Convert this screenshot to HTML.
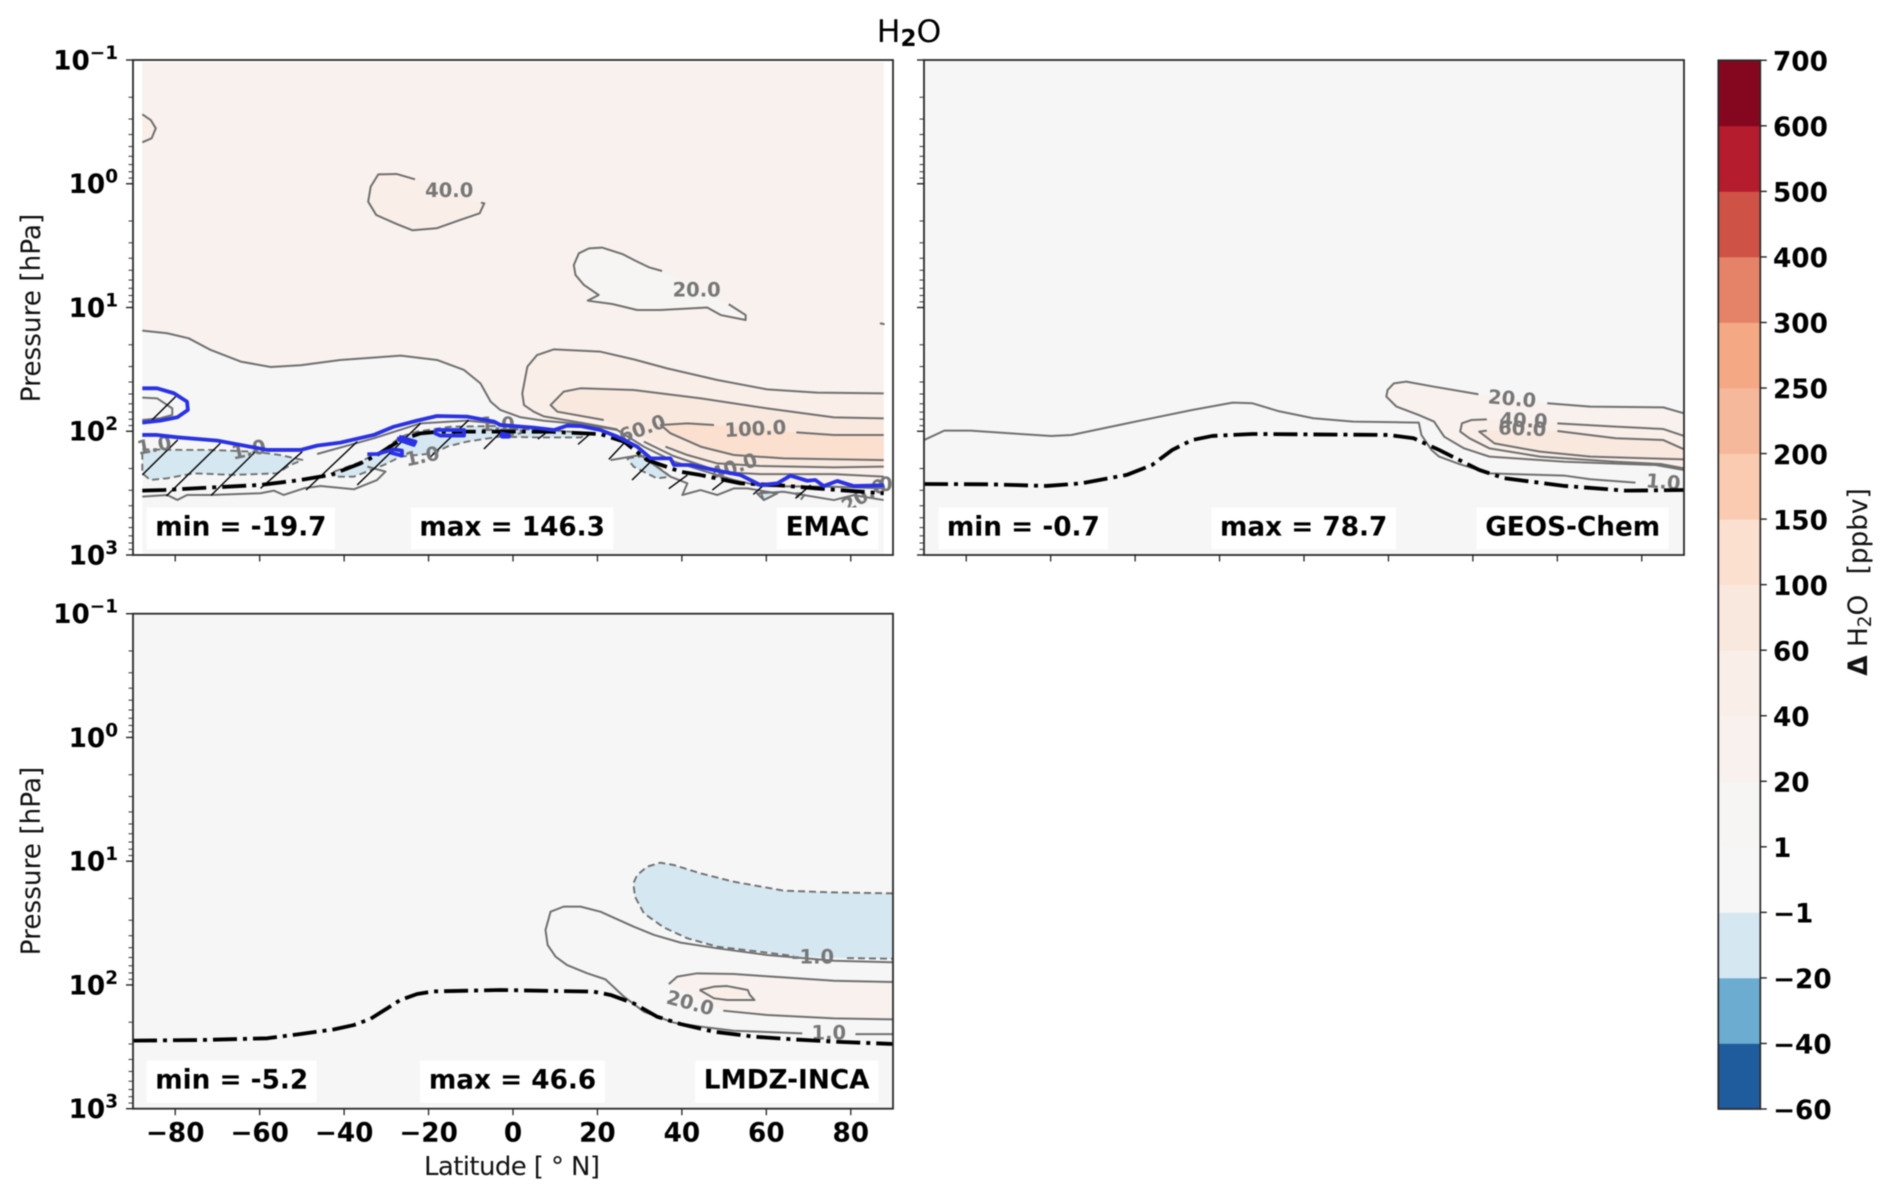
<!DOCTYPE html>
<html lang="en">
<head>
<meta charset="utf-8">
<title>H2O zonal mean difference</title>
<style>
html,body{margin:0;padding:0;background:#fff;}
svg{display:block;font-family:"DejaVu Sans","Liberation Sans",sans-serif;filter:blur(0.45px);}
</style>
</head>
<body>
<svg id="figure" xmlns="http://www.w3.org/2000/svg" width="1892" height="1197" viewBox="0 0 1892 1197">
  <rect x="0" y="0" width="1892" height="1197" fill="#ffffff"/>
  <text x="909" y="42" font-size="31.5" text-anchor="middle" fill="#000">H<tspan font-weight="bold" font-size="23" dy="4">2</tspan><tspan dy="-4">O</tspan></text>
  <text transform="translate(40,308) rotate(-90)" font-size="26.3" text-anchor="middle" fill="#111">Pressure [hPa]</text>
  <text transform="translate(40,861) rotate(-90)" font-size="26.3" text-anchor="middle" fill="#111">Pressure [hPa]</text>
  <text x="512" y="1175" font-size="26" text-anchor="middle" fill="#111" textLength="176" lengthAdjust="spacing">Latitude [ ° N]</text>
  <text transform="translate(1867,582) rotate(-90)" font-size="26.3" text-anchor="middle" fill="#111"><tspan font-weight="bold">Δ</tspan> H<tspan font-size="18.5" dy="4">2</tspan><tspan dy="-4">O </tspan><tspan dx="12">[ppbv]</tspan></text>
  <g id="plots"></g>
  <g id="colorbar"></g>
</svg>
<script>
// ---------- axis data ----------
const xTickValues = [-80,-60,-40,-20,0,20,40,60,80];
const yTickExponents = [-1,0,1,2,3];
const minorTickFactors = [2,3,4,5,6,7,8,9];
const colorbarLabels = ["\u221260","\u221240","\u221220","\u22121","1","20","40","60","100","150","200","250","300","400","500","600","700"];
const colorbarColors = ["#1f5c9d","#6bacd0","#d5e7f1","#f6f6f6","#f6f5f3","#f8f1ed","#f9eee8","#f9e8de","#fbdfcf","#facab1","#f6b89a","#f4a984","#e58368","#cf5246","#b51c2e","#85071f"];

// ---------- EMAC series: [latitude, log10 pressure] ----------
const emacC20 = [[-87.8,1.187],[-81.9,1.208],[-76.8,1.249],[-71.6,1.343],[-64.5,1.437],[-57.4,1.481],[-50.3,1.467],[-40.9,1.424],[-26.6,1.389],[-18,1.424],[-11.6,1.505],[-7.7,1.613],[-5.3,1.761],[-3,1.828],[1.8,1.887],[7.3,1.915],[16.8,1.944],[24.7,1.99],[31,2.125],[38.2,2.246],[44.4,2.313],[52.3,2.394],[58.6,2.443],[76,2.448],[87.8,2.462]];
const emacC40Upper = [[87.8,1.694],[72,1.688],[60.2,1.662],[48.4,1.586],[36.5,1.492],[28.6,1.419],[20.7,1.357],[9.7,1.338],[5.7,1.384],[3.4,1.478],[2.2,1.694],[2.6,1.788],[4.9,1.842],[7.3,1.88],[16.8,1.935],[24.7,1.985]];
const emacC40Lower = [[31,2.084],[38,2.2],[46,2.292],[48.4,2.313],[52.3,2.335],[58.6,2.346],[76,2.346],[87.8,2.367]];
const emacC60Upper = [[87.8,1.896],[76,1.888],[60.2,1.815],[44.5,1.734],[28.6,1.667],[16,1.653],[12,1.68],[8.9,1.788],[10.5,1.842],[21.5,1.909]];
const emacC60Lower = [[36.1,2.125],[41.3,2.192],[48.4,2.26],[58.6,2.281],[76,2.292],[87.8,2.286]];
const emacC100Right = [[87.8,2.03],[76,2.03],[67.1,2.009]];
const emacC100Left = [[47.6,1.95],[41.3,1.936],[35,1.95],[37.3,2.017],[44.5,2.125],[52.3,2.192],[64.1,2.219],[87.8,2.233]];
const emacBlobEdge = [[-87.8,-0.561],[-85.8,-0.515],[-84.6,-0.448],[-85.6,-0.367],[-87.8,-0.335]];
const emacBlob40 = [[-23.2,-0.036],[-27.6,-0.079],[-31.9,-0.076],[-33.7,0.023],[-34.3,0.145],[-32.4,0.252],[-27.6,0.325],[-23.8,0.376],[-18.1,0.36],[-12.6,0.293],[-7.9,0.239],[-6.8,0.158],[-7.6,0.153]];
const emacBlob20 = [[35.3,0.705],[32.2,0.675],[29,0.622],[25.9,0.568],[21.1,0.516],[18,0.522],[15.6,0.562],[14.4,0.657],[14.8,0.737],[16.8,0.818],[20.3,0.899],[17.7,0.945],[23.5,0.972],[29.4,1.02],[34.9,1.02],[46,1],[49.2,1.061],[55.1,1.101],[55.1,1.061],[51.1,0.974]];
const emacSmallTick = [[86.9,1.127],[88,1.135]];
const emacInnerLoop = [[-87.8,1.728],[-84.3,1.734],[-80.7,1.815],[-80.7,1.868],[-83.5,1.895],[-87.8,1.909]];
const emacUpperGray = [[-46.4,2.184],[-33,2.057],[-21.9,1.936],[-10.9,1.914],[1.8,1.957]];
const emacBottomLeft = [[-87.8,2.528],[-81.9,2.515],[-79.5,2.555],[-77.2,2.515],[-71.6,2.515],[-59.8,2.501],[-56.6,2.48],[-54.3,2.515],[-49.5,2.461],[-45.6,2.442],[-37.7,2.469],[-32.2,2.394],[-30.2,2.326],[-34.5,2.286]];
const emacBottomRight = [[23.1,2.233],[30.2,2.192],[37.3,2.367],[41.3,2.421],[40.1,2.515],[44.4,2.475],[48.4,2.515],[52.3,2.462],[55.5,2.462],[62.6,2.502],[59.4,2.556],[57.8,2.502],[64.1,2.489],[76,2.556],[80.7,2.516],[87.8,2.556]];
const emacNegative1 = [[-87.8,2.146],[-78,2.151],[-71.6,2.151],[-61.4,2.165],[-55.1,2.192],[-49.9,2.232],[-52.7,2.273],[-55.9,2.34],[-66.1,2.353],[-75.6,2.34],[-81.9,2.38],[-85.9,2.394],[-87.8,2.34]];
const emacNegative2 = [[-42.4,2.326],[-36.9,2.259],[-30.6,2.151],[-26.6,2.044],[-22.7,2.003],[-14.8,1.963],[-3,1.957],[1.8,1.976],[1.8,2.017],[-10.9,2.084],[-15.6,2.124],[-18.7,2.178],[-26.6,2.205],[-30.6,2.273],[-37.7,2.367],[-42.4,2.367]];
const emacNegative3 = [[-3,1.985],[6.5,1.985],[18.4,2.017],[16,2.05],[6.5,2.05],[-3,2.044]];
const emacNegative4 = [[27,2.219],[31,2.2],[37.3,2.367],[34.1,2.381],[28.6,2.287]];
const emacNegative5 = [[58.6,2.489],[62.6,2.502],[59.4,2.556]];
const emacNegative6 = [[66.9,2.502],[69.3,2.502],[68.1,2.556]];
const emacHatchSegments = [[-87.8,2.353,-79.4,2.07],[-82.1,2.523,-69.3,2.097],[-71.5,2.518,-60.6,2.151],[-59.8,2.461,-49.9,2.165],[-49,2.475,-36.9,2.084],[-36.9,2.434,-21.9,1.936],[-19.9,2.219,-10.5,1.909],[-6.9,2.143,-3,2.011],[-85.5,1.909,-79.9,1.72],[5.9,2.063,7.7,2.017],[15.4,2.106,18.4,2.017],[22.7,2.227,26.6,2.085],[28.2,2.394,32.6,2.246],[36.9,2.464,41.3,2.354],[47.2,2.475,50.7,2.381],[56.9,2.51,59.4,2.435],[66.9,2.542,70.5,2.435]];
const emacBlueLoop = [[-87.8,1.653],[-84.3,1.653],[-80.3,1.693],[-77.2,1.761],[-77,1.828],[-79.5,1.887],[-83.5,1.914],[-87.8,1.93]];
const emacBlueMain = [[-87.8,2.03],[-84.3,2.03],[-79.5,2.049],[-70,2.076],[-64.5,2.111],[-58.2,2.151],[-50.3,2.151],[-46.4,2.116],[-40.9,2.092],[-33,2.03],[-28.2,1.963],[-22.7,1.914],[-18,1.877],[-10.9,1.882],[-4.5,1.922],[-3,1.95],[4.9,1.971],[9.7,1.99],[12.8,1.955],[16,1.958],[20.7,1.99],[24.7,2.044],[29.4,2.125],[32.6,2.219],[37.3,2.219],[38.1,2.273],[42,2.273],[47.6,2.313],[53.9,2.354],[58.6,2.435],[62.6,2.421],[65.7,2.359],[69.7,2.4],[71.6,2.394],[73.6,2.443],[76.8,2.402],[80.7,2.443],[87.8,2.437]];
const emacBlueBit1 = [[-34.5,2.186],[-32.2,2.184],[-28.2,2.146],[-26.3,2.157],[-26.3,2.197],[-29,2.173]];
const emacBlueBit2 = [[-27,2.044],[-23.1,2.084],[-23.5,2.111],[-27,2.07],[-27,2.044]];
const emacBlueBit3 = [[-18.4,1.99],[-11.6,1.99],[-11.6,2.035],[-17.2,2.035],[-18.4,2.017],[-18.4,1.99]];
const emacBlueBit4 = [[-3,2.017],[-1,2.03],[-1,2.044],[-2.6,2.044],[-3,2.017]];
const emacTropopause = [[-87.8,2.48],[-82.7,2.475],[-72.4,2.456],[-59.8,2.434],[-50.3,2.394],[-43.2,2.353],[-36.1,2.259],[-32.2,2.192],[-26.6,2.07],[-21.9,2.017],[-17.2,2.003],[1.8,2.003],[8.9,2.004],[20.7,2.023],[26.3,2.084],[31.8,2.233],[39.7,2.327],[44.4,2.354],[53.9,2.421],[62.6,2.435],[72,2.462],[87.8,2.502]];
const emacLabelText = ["40.0","20.0","1.0","1.0","1.0","1.0","60.0","100.0","40.0","20.0","0"];
const emacLabelLat = [-15.1,43.5,-85,-62.6,-21.5,-3.7,30.6,57.4,52.3,83.1,88.3];
const emacLabelLogP = [0.05,0.853,2.111,2.146,2.2,1.941,1.977,1.977,2.287,2.516,2.427];
const emacLabelAngle = [0,0,-10,-12,-12,0,-20,-3,-20,-30,0];

// ---------- GEOS-Chem series ----------
const geosC1 = [[-90,2.071],[-85.2,1.995],[-79,1.995],[-69.4,2.017],[-59.9,2.038],[-55.1,2.03],[-40.8,1.928],[-26.5,1.828],[-16.9,1.769],[-12.2,1.774],[-6.2,1.836],[2.2,1.895],[11.7,1.922],[27.2,1.93],[27.8,2.03],[30.2,2.151],[32,2.205],[36.8,2.265],[43.9,2.34],[61.8,2.359],[67.8,2.388],[78.5,2.415]];
const geosC20Upper = [[41.3,1.701],[30.8,1.64],[24.2,1.599],[21.3,1.613],[19.8,1.666],[19.5,1.72],[21.9,1.801],[27.2,1.869],[30.8,1.922],[33.2,2.044],[37.9,2.138],[43.9,2.205],[61.8,2.246],[83.3,2.273],[90,2.313]];
const geosC20Lower = [[90,1.855],[85.1,1.807],[67.8,1.801],[57.6,1.774]];
const geosC40Upper = [[43.3,1.904],[39.7,1.909],[37.4,1.936],[37,2.003],[39.2,2.057],[43.9,2.138],[55.9,2.205],[73.8,2.246],[84.5,2.265],[90,2.3]];
const geosC40Lower = [[90,2.038],[85.1,1.982],[73.8,1.963],[60,1.936]];
const geosC60Upper = [[43.3,1.995],[41.5,2.003],[45.1,2.098],[55.9,2.165],[67.8,2.205],[90,2.227]];
const geosC60Lower = [[90,2.146],[85.1,2.071],[73.8,2.057],[60,1.998]];
const geosTropopause = [[-90,2.426],[-74.2,2.429],[-61,2.442],[-52.7,2.421],[-42,2.353],[-36,2.273],[-31.2,2.151],[-26.5,2.071],[-21.7,2.038],[-12.2,2.022],[20,2.03],[26,2.057],[32,2.151],[41.5,2.313],[47.5,2.38],[61.8,2.442],[76.2,2.48],[90,2.475]];
const geosLabelText = ["20.0","40.0","60.0","1.0"];
const geosLabelLat = [49.3,52,51.7,85.1];
const geosLabelLogP = [1.734,1.909,1.976,2.407];
const geosLabelAngle = [5,2,2,5];

// ---------- LMDZ-INCA series ----------
const lmdzNegative = [[90,1.26],[76,1.252],[64.1,1.238],[52.3,1.166],[44.4,1.098],[38.1,1.031],[34.9,1.012],[31.8,1.044],[29.4,1.112],[28.5,1.179],[28.9,1.287],[31,1.421],[35.7,1.535],[41.3,1.623],[48.4,1.691],[60.2,1.739],[66.5,1.766]];
const lmdzNegativeEnd = [[79.1,1.783],[90,1.788]];
const lmdzC1Main = [[90,1.817],[76,1.804],[60.2,1.758],[48.4,1.704],[39.7,1.658],[33.4,1.596],[28.6,1.529],[20.7,1.408],[16,1.367],[12,1.367],[8.9,1.408],[7.7,1.556],[8.2,1.677],[10.1,1.772],[12.8,1.839],[17.6,1.906],[21.9,1.955],[26.3,2.095],[31,2.216],[38.1,2.305],[44.4,2.337],[52.3,2.37],[68.5,2.391]];
const lmdzC1End = [[81.1,2.397],[90,2.397]];
const lmdzC20Upper = [[36.9,1.993],[38.9,1.933],[43.6,1.906],[52.3,1.912],[64.1,1.939],[76,1.966],[90,1.976]];
const lmdzC20Lower = [[90,2.278],[76,2.27],[60.2,2.243],[49.8,2.208]];
const lmdzBlob40 = [[44.2,2.041],[47.6,2.014],[50.7,2.009],[55.6,2.041],[56.1,2.081],[57.2,2.122],[50.7,2.122],[47.6,2.108],[44.2,2.041]];
const lmdzTropopause = [[-90,2.45],[-74,2.445],[-58.2,2.431],[-50.3,2.396],[-42.4,2.359],[-37.7,2.324],[-33.8,2.275],[-29.8,2.189],[-26.7,2.122],[-22.7,2.073],[-18.8,2.052],[-3,2.041],[19.1,2.054],[23.1,2.081],[28.6,2.149],[34.1,2.256],[39.7,2.316],[47.6,2.378],[57,2.418],[66.5,2.44],[76,2.458],[90,2.477]];
const lmdzLabelText = ["-1.0","20.0","1.0"];
const lmdzLabelLat = [71,42,74.8];
const lmdzLabelLogP = [1.772,2.143,2.386];
const lmdzLabelAngle = [0,15,0];

// ---------- region colours ----------
const LINE = "#707070", BG = "#f6f6f6", C20 = "#f8f1ed", C40 = "#f9eee8", C60 = "#f9e8de", C100 = "#fbdfcf", NEG = "#d5e7f1", NEAR = "#f6f5f3";

const SVGNS = "http://www.w3.org/2000/svg";
const plots = document.getElementById("plots");
const cbarGroup = document.getElementById("colorbar");

function mk(parent, tag, attrs){
  const el = document.createElementNS(SVGNS, tag);
  for (const k in attrs) el.setAttribute(k, attrs[k]);
  parent.appendChild(el);
  return el;
}

function makeAxes(left, top){
  const width = 760, height = 495;
  return {
    left, top, width, height,
    x: lat => left + (lat + 90) / 180 * width,
    y: lp => top + (lp + 1) / 4 * height
  };
}

function pts(ax, arr){
  return arr.map(p => ax.x(p[0]).toFixed(2) + "," + ax.y(p[1]).toFixed(2)).join(" ");
}

function fillPoly(g, ax, arr, color, name){
  const el = mk(g, "polygon", {points: pts(ax, arr), fill: color});
  
  
  return el;
}

function drawLine(g, ax, arr, color, w, name, dash){
  const el = mk(g, "polyline", {points: pts(ax, arr), fill: "none", stroke: color, "stroke-width": w, "stroke-linejoin": "round"});
  if (dash) el.setAttribute("stroke-dasharray", dash);
  
  
  return el;
}

function drawContourLabels(g, ax, texts, lats, logps, angles){
  texts.forEach((t, i) => {
    const x = ax.x(lats[i]), y = ax.y(logps[i]);
    const el = mk(g, "text", {x: x, y: y + 7, "font-size": 19.5, "font-weight": "bold", fill: "#777777", "text-anchor": "middle", transform: "rotate(" + angles[i] + " " + x + " " + y + ")"});
    el.textContent = t;
    
    
  });
}

function drawFrame(g, ax, showXLabels){
  const frame = mk(g, "rect", {x: ax.left, y: ax.top, width: ax.width, height: ax.height, fill: "none", stroke: "#2a2a2a", "stroke-width": 1.8});
  
  
  const bottom = ax.top + ax.height;
  xTickValues.forEach(v => {
    const t = mk(g, "line", {x1: ax.x(v), x2: ax.x(v), y1: bottom, y2: bottom + 6.5, stroke: "#222", "stroke-width": 1.3});
    
    
    if (showXLabels){
      const l = mk(g, "text", {x: ax.x(v), y: bottom + 33, "font-size": 26.3, "font-weight": "bold", "text-anchor": "middle", fill: "#000"});
      l.textContent = String(v).replace("-", "\u2212");
      
      
    }
  });
  yTickExponents.forEach((e, idx) => {
    const y = ax.y(e);
    const t = mk(g, "line", {x1: ax.left - 7, x2: ax.left, y1: y, y2: y, stroke: "#222", "stroke-width": 1.4});
    
    
    if (idx < yTickExponents.length - 1){
      minorTickFactors.forEach(f => {
        const my = ax.y(e + Math.log10(f));
        const m = mk(g, "line", {x1: ax.left - 4.5, x2: ax.left, y1: my, y2: my, stroke: "#333", "stroke-width": 1});
        
        
      });
    }
    if (ax.left < 200){
      const l = mk(g, "text", {x: 118, y: y + 9.4, "font-size": 26.3, "font-weight": "bold", "text-anchor": "end", fill: "#000"});
      
      
      const base = mk(l, "tspan", {});
      base.textContent = "10";
      const sup = mk(l, "tspan", {"font-size": 18.4, dy: -10.5});
      sup.textContent = String(e).replace("-", "\u2212");
    }
  });
}

function drawBox(g, x1, x2, y1, text, name){
  const r = mk(g, "rect", {x: x1, y: y1, width: x2 - x1, height: 42, fill: "#ffffff"});
  
  
  const t = mk(g, "text", {x: (x1 + x2) / 2, y: y1 + 28, "font-size": 26.3, "font-weight": "bold", "text-anchor": "middle", fill: "#000"});
  t.textContent = text;
  
  
}

function tropopause(g, ax, arr){
  drawLine(g, ax, arr, "#000000", 3.8, "tropopause-line", "24 6 4 6");
}

// ---------- EMAC panel ----------
(function(){
  const ax = makeAxes(133, 60);
  const g = mk(plots, "g", {});
  
  
  fillPoly(g, ax, [[-87.8,-0.98],[87.8,-0.98],[87.8,2.99],[-87.8,2.99]], BG, "emac-background");
  fillPoly(g, ax, [[-87.8,-0.98],[87.8,-0.98]].concat(emacC20.slice().reverse()), C20, "emac-region-20-40");
  fillPoly(g, ax, emacBlobEdge, C40, "emac-region-edge-blob");
  fillPoly(g, ax, emacBlob40, C40, "emac-region-blob-40");
  fillPoly(g, ax, emacBlob20, NEAR, "emac-region-blob-20");
  fillPoly(g, ax, emacC40Upper.concat(emacC40Lower), C40, "emac-region-40-60");
  fillPoly(g, ax, emacC60Upper.concat(emacC60Lower), C60, "emac-region-60-100");
  fillPoly(g, ax, emacC100Right.concat(emacC100Left), C100, "emac-region-100-plus");
  [emacNegative1, emacNegative2, emacNegative3, emacNegative4, emacNegative5, emacNegative6].forEach(a => fillPoly(g, ax, a, NEG, "emac-negative-region"));
  [emacC20, emacC40Upper, emacC40Lower, emacC60Upper, emacC60Lower, emacC100Right, emacC100Left, emacBlobEdge, emacBlob40, emacBlob20, emacSmallTick, emacInnerLoop, emacUpperGray, emacBottomLeft, emacBottomRight].forEach(a => drawLine(g, ax, a, LINE, 2, "emac-contour"));
  [emacNegative1, emacNegative2, emacNegative3, emacNegative4, emacNegative5, emacNegative6].forEach(a => drawLine(g, ax, a.concat([a[0]]), LINE, 1.9, "emac-negative-contour", "7 4"));
  emacHatchSegments.forEach(s => {
    const h = mk(g, "line", {x1: ax.x(s[0]), y1: ax.y(s[1]), x2: ax.x(s[2]), y2: ax.y(s[3]), stroke: "#000", "stroke-width": 1.4});
    
    
  });
  drawContourLabels(g, ax, emacLabelText, emacLabelLat, emacLabelLogP, emacLabelAngle);
  tropopause(g, ax, emacTropopause);
  [emacBlueLoop, emacBlueMain, emacBlueBit1, emacBlueBit2, emacBlueBit3, emacBlueBit4].forEach(a => drawLine(g, ax, a, "#2a32e4", 3.8, "emac-blue-contour"));
  drawBox(g, 146.7, 335, 507.5, "min = -19.7", "emac-min");
  drawBox(g, 411, 613.3, 507.5, "max = 146.3", "emac-max");
  drawBox(g, 776.7, 878.3, 507.5, "EMAC", "emac-model-name");
  drawFrame(g, ax, false);
})();

// ---------- GEOS-Chem panel ----------
(function(){
  const ax = makeAxes(924, 60);
  const g = mk(plots, "g", {});
  
  
  fillPoly(g, ax, [[-90,-1],[90,-1],[90,3],[-90,3]], BG, "geos-background");
  fillPoly(g, ax, geosC20Upper.concat(geosC20Lower), C20, "geos-region-20-40");
  fillPoly(g, ax, geosC40Upper.concat(geosC40Lower), C40, "geos-region-40-60");
  fillPoly(g, ax, geosC60Upper.concat(geosC60Lower), C60, "geos-region-60-plus");
  [geosC1, geosC20Upper, geosC20Lower, geosC40Upper, geosC40Lower, geosC60Upper, geosC60Lower].forEach(a => drawLine(g, ax, a, LINE, 2, "geos-contour"));
  drawContourLabels(g, ax, geosLabelText, geosLabelLat, geosLabelLogP, geosLabelAngle);
  tropopause(g, ax, geosTropopause);
  drawBox(g, 938.7, 1108, 507.5, "min = -0.7", "geos-min");
  drawBox(g, 1211.3, 1396, 507.5, "max = 78.7", "geos-max");
  drawBox(g, 1476.7, 1668.7, 507.5, "GEOS-Chem", "geos-model-name");
  drawFrame(g, ax, false);
})();

// ---------- LMDZ-INCA panel ----------
(function(){
  const ax = makeAxes(133, 613.7);
  const g = mk(plots, "g", {});
  
  
  fillPoly(g, ax, [[-90,-1],[90,-1],[90,3],[-90,3]], BG, "lmdz-background");
  fillPoly(g, ax, lmdzNegative.concat(lmdzNegativeEnd), NEG, "lmdz-negative-region");
  fillPoly(g, ax, lmdzC20Upper.concat(lmdzC20Lower), C20, "lmdz-region-20-40");
  fillPoly(g, ax, lmdzBlob40, C40, "lmdz-region-40-plus");
  drawLine(g, ax, lmdzNegative, LINE, 1.9, "lmdz-negative-contour", "7 4");
  drawLine(g, ax, lmdzNegativeEnd, LINE, 1.9, "lmdz-negative-contour", "7 4");
  [lmdzC1Main, lmdzC1End, lmdzC20Upper, lmdzC20Lower, lmdzBlob40].forEach(a => drawLine(g, ax, a, LINE, 2, "lmdz-contour"));
  drawContourLabels(g, ax, lmdzLabelText, lmdzLabelLat, lmdzLabelLogP, lmdzLabelAngle);
  tropopause(g, ax, lmdzTropopause);
  drawBox(g, 146.7, 316.7, 1060.7, "min = -5.2", "lmdz-min");
  drawBox(g, 420, 605, 1060.7, "max = 46.6", "lmdz-max");
  drawBox(g, 695, 878.3, 1060.7, "LMDZ-INCA", "lmdz-model-name");
  drawFrame(g, ax, true);
})();

// ---------- Colorbar ----------
(function(){
  const left = 1718.3, right = 1760.3, top = 60.3, bottom = 1109;
  const n = colorbarColors.length;
  const levelY = i => bottom - (bottom - top) * i / n;
  colorbarColors.forEach((c, i) => {
    const r = mk(cbarGroup, "rect", {x: left, y: levelY(i + 1), width: right - left, height: levelY(i) - levelY(i + 1) + 0.4, fill: c});
    
    
  });
  const frame = mk(cbarGroup, "rect", {x: left, y: top, width: right - left, height: bottom - top, fill: "none", stroke: "#2a2a2a", "stroke-width": 1.7});
  
  
  colorbarLabels.forEach((s, i) => {
    const y = levelY(i);
    const t = mk(cbarGroup, "line", {x1: right, x2: right + 6.5, y1: y, y2: y, stroke: "#222", "stroke-width": 1.4});
    
    
    const l = mk(cbarGroup, "text", {x: 1773, y: y + 10.2, "font-size": 26.3, "font-weight": "bold", fill: "#000"});
    l.textContent = s;
    
    
  });
})();
</script>
</body>
</html>
